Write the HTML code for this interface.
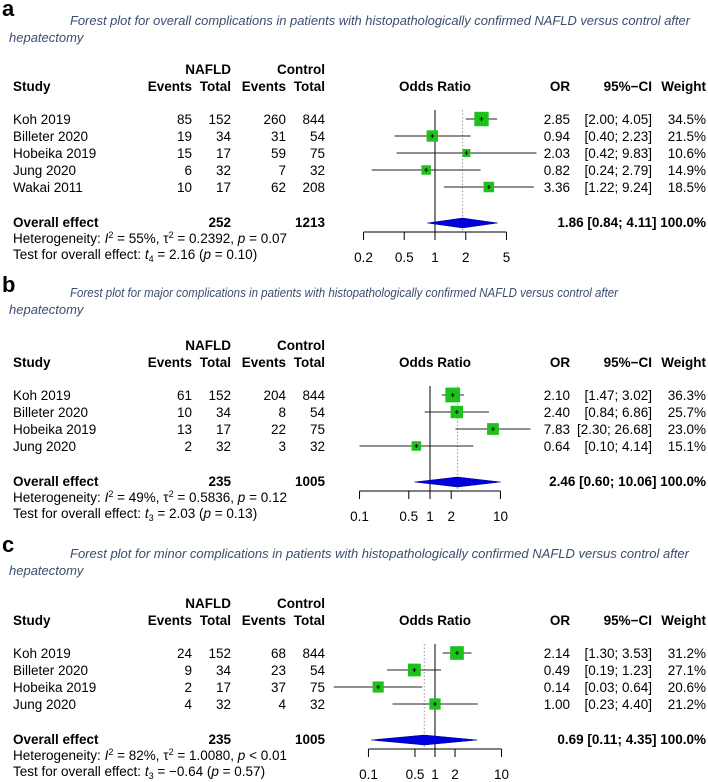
<!DOCTYPE html>
<html><head><meta charset="utf-8">
<style>
html,body{margin:0;padding:0;background:#fff;}
svg{display:block;font-family:"Liberation Sans",Arial,sans-serif;}
.t{font-size:13.5px;fill:#000;}
.b{font-weight:bold;}
.ttl{font-family:"Liberation Sans",sans-serif;font-style:italic;font-size:13px;fill:#3b4d6e;}
</style></head>
<body>
<svg id="chart" width="708" height="782" viewBox="0 0 708 782" xmlns="http://www.w3.org/2000/svg"></svg>
<script>
// ---- Panel a data ----
const aStudies=["Koh 2019","Billeter 2020","Hobeika 2019","Jung 2020","Wakai 2011"];
const aNafldEvents=[85,19,15,6,10];
const aNafldTotal=[152,34,17,32,17];
const aCtrlEvents=[260,31,59,7,62];
const aCtrlTotal=[844,54,75,32,208];
const aOR=[2.85,0.94,2.03,0.82,3.36];
const aLo=[2.00,0.40,0.42,0.24,1.22];
const aHi=[4.05,2.23,9.83,2.79,9.24];
const aWeight=[34.5,21.5,10.6,14.9,18.5];
const aPooled=[1.86,0.84,4.11];
const aTicks=[0.2,0.5,1,2,5];
// ---- Panel b data ----
const bStudies=["Koh 2019","Billeter 2020","Hobeika 2019","Jung 2020"];
const bNafldEvents=[61,10,13,2];
const bNafldTotal=[152,34,17,32];
const bCtrlEvents=[204,8,22,3];
const bCtrlTotal=[844,54,75,32];
const bOR=[2.10,2.40,7.83,0.64];
const bLo=[1.47,0.84,2.30,0.10];
const bHi=[3.02,6.86,26.68,4.14];
const bWeight=[36.3,25.7,23.0,15.1];
const bPooled=[2.46,0.60,10.06];
const bTicks=[0.1,0.5,1,2,10];
// ---- Panel c data ----
const cStudies=["Koh 2019","Billeter 2020","Hobeika 2019","Jung 2020"];
const cNafldEvents=[24,9,2,4];
const cNafldTotal=[152,34,17,32];
const cCtrlEvents=[68,23,37,4];
const cCtrlTotal=[844,54,75,32];
const cOR=[2.14,0.49,0.14,1.00];
const cLo=[1.30,0.19,0.03,0.23];
const cHi=[3.53,1.23,0.64,4.40];
const cWeight=[31.2,27.1,20.6,21.2];
const cPooled=[0.69,0.11,4.35];
const cTicks=[0.1,0.5,1,2,10];

const NS="http://www.w3.org/2000/svg";
const svg=document.getElementById('chart');
function el(tag,attrs,parent){const e=document.createElementNS(NS,tag);for(const k in attrs)e.setAttribute(k,attrs[k]);(parent||svg).appendChild(e);return e;}
function txt(s,x,y,cls,anchor,parent){const e=el('text',{x:x,y:y,class:cls,'text-anchor':anchor||'start'},parent);e.innerHTML=s;return e;}
const f2=v=>v.toFixed(2);

function panel(p){
  const g=el('g',{});
  
  
  const S=p.S;
  const lbl=txt(p.id,2,p.labelY,'t b','start',g);lbl.setAttribute('style','font-size:22px');
  
  const t1=el('text',{x:70,y:p.titleY,class:'ttl',textLength:p.titleEnd-70,lengthAdjust:'spacingAndGlyphs'},g);
  t1.textContent=p.title;
  
  const t2=txt('hepatectomy',9,p.titleY+17,'ttl','start',g);
  
  const hdr=el('g',{},g);
  
  txt('NAFLD',231,S-17,'t b','end',hdr);txt('Control',325,S-17,'t b','end',hdr);
  txt('Study',13,S,'t b','start',hdr);
  txt('Events',192,S,'t b','end',hdr);txt('Total',231,S,'t b','end',hdr);
  txt('Events',286,S,'t b','end',hdr);txt('Total',325,S,'t b','end',hdr);
  txt('Odds Ratio',435,S,'t b','middle',hdr);
  txt('OR',560,S,'t b','middle',hdr);
  txt('95%&#8722;CI',652,S,'t b','end',hdr);
  txt('Weight',706,S,'t b','end',hdr);
  const X=v=>p.cx+p.k*Math.log(v);
  const n=p.studies.length;
  const rowY=i=>S+28+17*i;
  const lastY=rowY(n-1);
  const ovB=lastY+40;
  const axY=ovB+5;
  const top=rowY(0)-9;
  const l1=el('line',{x1:X(1),x2:X(1),y1:top,y2:axY,stroke:'#000','stroke-width':1},g);
  
  const l2=el('line',{x1:X(p.pooled[0]),x2:X(p.pooled[0]),y1:top,y2:axY,stroke:'#999','stroke-width':1,'stroke-dasharray':'1.5,2'},g);
  
  for(let i=0;i<n;i++){
    const y=rowY(i),yb=y+5;
    const r=el('g',{},g);
    
    txt(p.studies[i],13,yb,'t','start',r);
    txt(p.ne[i],192,yb,'t','end',r);txt(p.nt[i],231,yb,'t','end',r);
    txt(p.ce[i],286,yb,'t','end',r);txt(p.ct[i],325,yb,'t','end',r);
    const ci=el('line',{x1:X(p.lo[i]),x2:X(p.hi[i]),y1:y,y2:y,stroke:'#222','stroke-width':1.1},r);
    
    const s=2.45*Math.sqrt(p.w[i]);
    const sq=el('rect',{x:X(p.or[i])-s/2,y:y-s/2,width:s,height:s,fill:'#1cc11c'},r);
    
    el('line',{x1:X(p.or[i]),x2:X(p.or[i]),y1:y-2,y2:y+2,stroke:'#000','stroke-width':1},r);
    el('line',{x1:X(p.or[i])-2,x2:X(p.or[i])+2,y1:y,y2:y,stroke:'#000','stroke-width':0.8},r);
    txt(f2(p.or[i]),570,yb,'t','end',r);
    const ciT=txt('['+f2(p.lo[i])+'; '+f2(p.hi[i])+']',652,yb,'t','end',r);
    ciT.setAttribute('style','white-space:pre');
    txt(p.w[i].toFixed(1)+'%',706,yb,'t','end',r);
  }
  const ov=el('g',{},g);
  
  txt('Overall effect',13,ovB,'t b','start',ov);
  txt(p.ntSum,231,ovB,'t b','end',ov);txt(p.ctSum,325,ovB,'t b','end',ov);
  const dy=ovB-4;
  const d=el('polygon',{points:`${X(p.pooled[1])},${dy} ${X(p.pooled[0])},${dy-5} ${X(p.pooled[2])},${dy} ${X(p.pooled[0])},${dy+5}`,fill:'#0000dd',stroke:'#00008b','stroke-width':0.6},ov);
  
  txt(f2(p.pooled[0])+' ['+f2(p.pooled[1])+'; '+f2(p.pooled[2])+'] 100.0%',706,ovB,'t b','end',ov);
  const h=txt(p.het,13,ovB+16,'t','start',g);
  
  const te=txt(p.test,13,ovB+32,'t','start',g);
  
  const ax=el('g',{},g);
  
  const t0=p.ticks[0],tn=p.ticks[p.ticks.length-1];
  el('line',{x1:X(t0),x2:X(tn),y1:axY,y2:axY,stroke:'#000','stroke-width':1},ax);
  p.ticks.forEach(t=>{
    el('line',{x1:X(t),x2:X(t),y1:axY,y2:axY+8,stroke:'#000','stroke-width':1},ax);
    const tl=txt(String(t),X(t),axY+30,'t','middle',ax);
    
  });
}

panel({id:'a',S:91,labelY:16,titleY:25,titleEnd:690,
 title:'Forest plot for overall complications in patients with histopathologically confirmed NAFLD versus control after',
 studies:aStudies,ne:aNafldEvents,nt:aNafldTotal,ce:aCtrlEvents,ct:aCtrlTotal,or:aOR,lo:aLo,hi:aHi,w:aWeight,pooled:aPooled,ticks:aTicks,
 cx:435,k:44.4,ntSum:252,ctSum:1213,
 het:'Heterogeneity: <tspan font-style="italic">I</tspan><tspan dy="-5" font-size="9">2</tspan><tspan dy="5"> = 55%, τ</tspan><tspan dy="-5" font-size="9">2</tspan><tspan dy="5"> = 0.2392, </tspan><tspan font-style="italic">p</tspan> = 0.07',
 test:'Test for overall effect: <tspan font-style="italic">t</tspan><tspan dy="3" font-size="9">4</tspan><tspan dy="-3"> = 2.16 (</tspan><tspan font-style="italic">p</tspan> = 0.10)'});
panel({id:'b',S:367,labelY:292,titleY:297,titleEnd:618,
 title:'Forest plot for major complications in patients with histopathologically confirmed NAFLD versus control after',
 studies:bStudies,ne:bNafldEvents,nt:bNafldTotal,ce:bCtrlEvents,ct:bCtrlTotal,or:bOR,lo:bLo,hi:bHi,w:bWeight,pooled:bPooled,ticks:bTicks,
 cx:430,k:30.6,ntSum:235,ctSum:1005,
 het:'Heterogeneity: <tspan font-style="italic">I</tspan><tspan dy="-5" font-size="9">2</tspan><tspan dy="5"> = 49%, τ</tspan><tspan dy="-5" font-size="9">2</tspan><tspan dy="5"> = 0.5836, </tspan><tspan font-style="italic">p</tspan> = 0.12',
 test:'Test for overall effect: <tspan font-style="italic">t</tspan><tspan dy="3" font-size="9">3</tspan><tspan dy="-3"> = 2.03 (</tspan><tspan font-style="italic">p</tspan> = 0.13)'});
panel({id:'c',S:625,labelY:552,titleY:558,titleEnd:689,
 title:'Forest plot for minor complications in patients with histopathologically confirmed NAFLD versus control after',
 studies:cStudies,ne:cNafldEvents,nt:cNafldTotal,ce:cCtrlEvents,ct:cCtrlTotal,or:cOR,lo:cLo,hi:cHi,w:cWeight,pooled:cPooled,ticks:cTicks,
 cx:435,k:28.9,ntSum:235,ctSum:1005,
 het:'Heterogeneity: <tspan font-style="italic">I</tspan><tspan dy="-5" font-size="9">2</tspan><tspan dy="5"> = 82%, τ</tspan><tspan dy="-5" font-size="9">2</tspan><tspan dy="5"> = 1.0080, </tspan><tspan font-style="italic">p</tspan> &lt; 0.01',
 test:'Test for overall effect: <tspan font-style="italic">t</tspan><tspan dy="3" font-size="9">3</tspan><tspan dy="-3"> = −0.64 (</tspan><tspan font-style="italic">p</tspan> = 0.57)'});
</script>
</body></html>
